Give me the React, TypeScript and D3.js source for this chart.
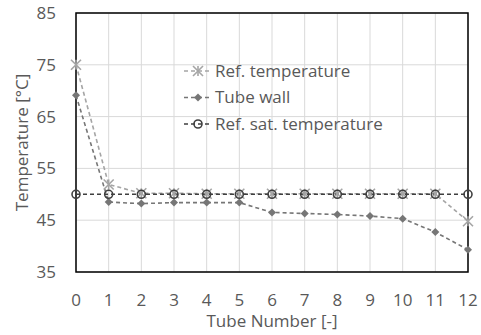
import React from "react";
import * as d3 from "d3";

const tubes = [0, 1, 2, 3, 4, 5, 6, 7, 8, 9, 10, 11, 12];
const refTemp = [75, 51.9, 50.2, 50.2, 50.1, 50.1, 50.1, 50.1, 50.1, 50.1, 50.1, 50.1, 44.8];
const tubeWall = [69.1, 48.5, 48.2, 48.4, 48.4, 48.4, 46.5, 46.3, 46.1, 45.8, 45.3, 42.7, 39.3];
const satTemp = [50, 50, 50, 50, 50, 50, 50, 50, 50, 50, 50, 50, 50];
const yTicks = [35, 45, 55, 65, 75, 85];
const seriesNames = ["Ref. temperature", "Tube wall", "Ref. sat. temperature"];

const W = 481, H = 335;
const m = { l: 76, r: 13, t: 13, b: 63 };

export default function App() {
  const x = d3.scaleLinear().domain([0, 12]).range([m.l, W - m.r]);
  const y = d3.scaleLinear().domain([35, 85]).range([H - m.b, m.t]);
  const line = d3
    .line<number>()
    .x((_, i) => x(tubes[i]))
    .y((d) => y(d));
  const font = "'Open Sans', 'DejaVu Sans', sans-serif";
  const txt = "#595959";
  const fs = 17;

  const star = (cx: number, cy: number, c: string, s = 5) => (
    <g stroke={c} strokeWidth={1.6}>
      <line x1={cx - s} y1={cy - s} x2={cx + s} y2={cy + s} />
      <line x1={cx - s} y1={cy + s} x2={cx + s} y2={cy - s} />
      <line x1={cx} y1={cy - s} x2={cx} y2={cy + s} />
    </g>
  );
  const diamond = (cx: number, cy: number, c: string, s = 4) => (
    <path d={`M${cx},${cy - s}L${cx + s},${cy}L${cx},${cy + s}L${cx - s},${cy}Z`} fill={c} />
  );
  const circle = (cx: number, cy: number, c: string) => (
    <circle cx={cx} cy={cy} r={4} fill="none" stroke={c} strokeWidth={1.6} />
  );

  const colors = ["#a5a5a5", "#767676", "#3f3f3f"];
  const data = [refTemp, tubeWall, satTemp];
  const markers = [star, diamond, circle];

  return (
    <svg width={W} height={H} style={{ position: "absolute", left: 0, top: 0 }} fontFamily={font}>
      <rect width={W} height={H} fill="#fff" />
      {tubes.map((t) => (
        <line key={"gx" + t} x1={x(t)} x2={x(t)} y1={y(35)} y2={y(85)} stroke="#d9d9d9" strokeWidth={1} />
      ))}
      {yTicks.map((v) => (
        <line key={"gy" + v} x1={x(0)} x2={x(12)} y1={y(v)} y2={y(v)} stroke="#d9d9d9" strokeWidth={1} />
      ))}
      <rect x={x(0)} y={y(85)} width={x(12) - x(0)} height={y(35) - y(85)} fill="none" stroke="#000" strokeWidth={1.5} />
      {yTicks.map((v) => (
        <text key={"ty" + v} x={m.l - 20} y={y(v)} dy="0.35em" textAnchor="end" fontSize={fs} fill={txt}>
          {v}
        </text>
      ))}
      {tubes.map((t) => (
        <text key={"tx" + t} x={x(t)} y={306} textAnchor="middle" fontSize={fs} fill={txt}>
          {t}
        </text>
      ))}
      <text x={272} y={327} textAnchor="middle" fontSize={fs} fill={txt}>
        Tube Number [-]
      </text>
      <text transform={`translate(28,${(y(35) + y(85)) / 2}) rotate(-90)`} textAnchor="middle" fontSize={fs} fill={txt}>
        Temperature [°C]
      </text>
      {data.map((d, k) => (
        <path key={"l" + k} d={line(d) || ""} fill="none" stroke={colors[k]} strokeWidth={1.6} strokeDasharray="4,3" />
      ))}
      {data.map((d, k) => (
        <g key={"m" + k}>{d.map((v, i) => <g key={i}>{markers[k](x(tubes[i]), y(v), colors[k])}</g>)}</g>
      ))}
      {seriesNames.map((n, k) => {
        const ly = 71 + k * 26.5;
        return (
          <g key={"lg" + k}>
            <line x1={184} x2={212} y1={ly} y2={ly} stroke={colors[k]} strokeWidth={1.6} strokeDasharray="4,3" />
            {markers[k](198, ly, colors[k])}
            <text x={215} y={ly} dy="0.35em" fontSize={fs} fill={txt}>
              {n}
            </text>
          </g>
        );
      })}
    </svg>
  );
}
